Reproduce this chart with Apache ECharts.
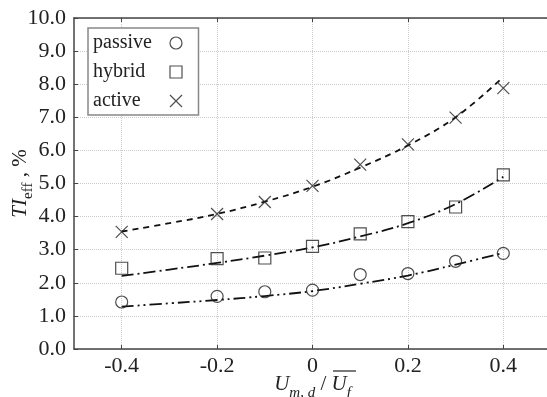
<!DOCTYPE html>
<html>
<head>
<meta charset="utf-8">
<script src="https://cdn.jsdelivr.net/npm/echarts@6/dist/echarts.min.js"></script>
<style>
    html, body { margin: 0; padding: 0; background: #fff; }
    #chart { width: 547px; height: 397px; }
</style>
</head>
<body>
<div id="chart"></div>
<script>
// measured points
const xPoints = [-0.4, -0.2, -0.1, 0, 0.1, 0.2, 0.3, 0.4];
const passive = [1.42, 1.59, 1.73, 1.78, 2.25, 2.28, 2.65, 2.89];
const hybrid = [2.44, 2.73, 2.75, 3.1, 3.48, 3.85, 4.29, 5.26];
const active = [3.54, 4.08, 4.44, 4.93, 5.57, 6.18, 6.99, 7.88];

// fitted curves
const xFit = [-0.4, -0.3, -0.2, -0.1, 0, 0.1, 0.2, 0.3, 0.4];
const passiveFit = [1.28, 1.38, 1.48, 1.6, 1.75, 1.97, 2.22, 2.55, 2.9];
const hybridFit = [2.21, 2.4, 2.6, 2.82, 3.07, 3.4, 3.8, 4.38, 5.2];
const activeFit = [3.55, 3.8, 4.08, 4.45, 4.9, 5.48, 6.15, 7.0, 8.22];

const xTicks = [-0.4, -0.2, 0, 0.2, 0.4];

const serif = "'Liberation Serif', 'DejaVu Serif', serif";
const ink = '#222';
const crossPath = 'path://M0,0L10,10M10,0L0,10';

let chart = echarts.init(document.getElementById('chart'));

function pairs(xs, ys) {
    return xs.map((x, i) => [x, ys[i]]);
}

function markSeries(name, data, symbol) {
    return {
        name: name,
        type: 'scatter',
        data: pairs(xPoints, data),
        symbol: symbol,
        symbolSize: 12,
        itemStyle: { color: 'none', borderColor: ink, borderWidth: 1.2 },
        z: 3
    };
}

function fitSeries(name, data, dash) {
    return {
        name: name,
        type: 'line',
        data: pairs(xFit, data),
        smooth: 0.4,
        showSymbol: false,
        symbol: 'none',
        lineStyle: { color: '#111', width: 1.8, type: dash },
        z: 2
    };
}

let option = {
    animation: false,
    grid: { left: 74, right: -4, top: 18, bottom: 48, outerBoundsMode: 'none' },
    legend: {
        orient: 'vertical',
        left: 88,
        top: 28,
        padding: [5, 14, 4, 5],
        itemGap: 9,
        itemWidth: 12,
        itemHeight: 12,
        borderColor: '#888',
        borderWidth: 1.5,
        backgroundColor: '#fff',
        align: 'right',
        data: [
            { name: 'passive', icon: 'circle' },
            { name: 'hybrid', icon: 'rect' },
            { name: 'active', icon: crossPath }
        ],
        formatter: name => '{t|' + name + '}',
        itemStyle: { color: 'none', borderColor: ink, borderWidth: 1.2 },
        textStyle: {
            fontFamily: serif, fontSize: 20, color: ink,
            rich: { t: { fontFamily: serif, fontSize: 20, color: ink, width: 72, align: 'left' } }
        }
    },
    xAxis: [{
        type: 'value',
        min: -0.5,
        max: 0.5,
        name: '{i|U}{s|m, d}{n| / }{i|U}{s|f}',
        nameLocation: 'middle',
        nameGap: 18,
        nameMoveOverlap: false,
        nameTextStyle: {
            fontFamily: serif,
            color: ink,
            rich: {
                i: { fontFamily: serif, fontStyle: 'italic', fontSize: 21, color: ink, lineHeight: 22 },
                n: { fontFamily: serif, fontSize: 21, color: ink, lineHeight: 22 },
                s: { fontFamily: serif, fontStyle: 'italic', fontSize: 15, color: ink, lineHeight: 34, verticalAlign: 'bottom' }
            }
        },
        axisLine: { onZero: false, lineStyle: { color: '#444', width: 1.5 } },
        axisTick: { inside: true, length: 4, customValues: xTicks, lineStyle: { color: '#444' } },
        axisLabel: { customValues: xTicks, fontFamily: serif, fontSize: 22, color: ink, margin: 6 },
        splitLine: { show: true, lineStyle: { color: '#ccc', type: 'dotted' } }
    }, {
        type: 'value',
        position: 'top',
        min: -0.5,
        max: 0.5,
        axisLine: { show: true, onZero: false, lineStyle: { color: '#444', width: 1.5 } },
        axisTick: { inside: true, length: 4, customValues: xTicks, lineStyle: { color: '#444' } },
        axisLabel: { show: false },
        splitLine: { show: false }
    }],
    yAxis: {
        type: 'value',
        min: 0,
        max: 10,
        interval: 1,
        name: '{i|TI}{s|eff}{n| , %}',
        nameLocation: 'middle',
        nameRotate: 90,
        nameGap: 38,
        nameMoveOverlap: false,
        nameTextStyle: {
            fontFamily: serif,
            color: ink,
            rich: {
                i: { fontFamily: serif, fontStyle: 'italic', fontSize: 21, color: ink, lineHeight: 22 },
                n: { fontFamily: serif, fontSize: 21, color: ink, lineHeight: 22 },
                s: { fontFamily: serif, fontSize: 15, color: ink, lineHeight: 32, verticalAlign: 'bottom' }
            }
        },
        axisLine: { show: true, onZero: false, lineStyle: { color: '#444', width: 1.5 } },
        axisTick: { inside: true, length: 4, lineStyle: { color: '#444' } },
        axisLabel: {
            fontFamily: serif, fontSize: 22, color: ink, margin: 8,
            formatter: v => v.toFixed(1)
        },
        splitLine: { show: true, lineStyle: { color: '#ccc', type: 'dotted' } }
    },
    graphic: [{
        // overline over the mean velocity U_f
        type: 'line',
        shape: { x1: 333, y1: 371, x2: 356, y2: 371 },
        style: { stroke: ink, lineWidth: 1.2 }
    }],
    series: [
        markSeries('passive', passive, 'circle'),
        markSeries('hybrid', hybrid, 'rect'),
        markSeries('active', active, crossPath),
        fitSeries('passive fit', passiveFit, [12, 4, 2, 4, 2, 4]),
        fitSeries('hybrid fit', hybridFit, [12, 4, 2, 4]),
        fitSeries('active fit', activeFit, [6, 5])
    ]
};

chart.setOption(option);
</script>
</body>
</html>
